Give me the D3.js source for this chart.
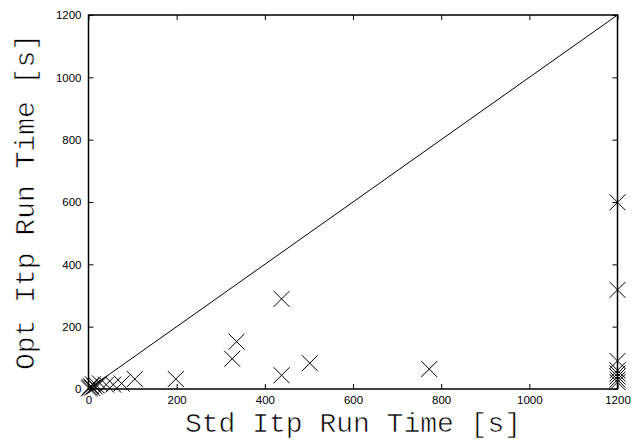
<!DOCTYPE html>
<html>
<head>
<meta charset="utf-8">
<script src="https://cdn.jsdelivr.net/npm/d3@7"></script>
<style>
    body { margin: 0; background: #fff; }
    svg { display: block; }
</style>
</head>
<body>
<div id="chart"></div>
<script>
// run times per benchmark (seconds), 1200 = timeout
var stdTime = [1, 3, 5, 8, 10, 14, 18, 26, 40, 56, 75, 105, 198, 326, 336, 438, 438, 502, 773,
    1200, 1200, 1200, 1200, 1200, 1200, 1200, 1200];
var optTime = [2, 5, 10, 4, 15, 8, 12, 18, 14, 14, 18, 32, 32, 97, 152, 289, 44, 83, 64,
    599, 318, 90, 60, 50, 40, 30, 22];
var tickValues = [0, 200, 400, 600, 800, 1000, 1200];

var width = 644, height = 441;
var margin = {left: 88.5, right: 26.5, top: 15, bottom: 52};

var svg = d3.select('#chart').append('svg')
    .attr('width', width)
    .attr('height', height);

var x = d3.scaleLinear().domain([0, 1200]).range([margin.left, width - margin.right]);
var y = d3.scaleLinear().domain([0, 1200]).range([height - margin.bottom, margin.top]);

var tickFont = function (g) {
    g.selectAll('text')
        .attr('font-family', 'Liberation Sans, Arial, sans-serif')
        .attr('font-size', 11.5)
        .attr('fill', '#000');
    g.select('.domain').remove();
    g.selectAll('line').attr('stroke', '#000');
};

// bottom / left axes with labels, ticks point inward
svg.append('g')
    .attr('transform', 'translate(0,' + y(0) + ')')
    .call(d3.axisBottom(x).tickValues(tickValues).tickSize(-5).tickPadding(7).tickFormat(d3.format('d')))
    .call(tickFont);

svg.append('g')
    .attr('transform', 'translate(' + x(0) + ',0)')
    .call(d3.axisLeft(y).tickValues(tickValues).tickSize(-5).tickPadding(7).tickFormat(d3.format('d')))
    .call(tickFont);

// mirrored ticks on top / right
svg.append('g')
    .attr('transform', 'translate(0,' + y(1200) + ')')
    .call(d3.axisTop(x).tickValues(tickValues).tickSize(-5).tickFormat(''))
    .call(tickFont);

svg.append('g')
    .attr('transform', 'translate(' + x(1200) + ',0)')
    .call(d3.axisRight(y).tickValues(tickValues).tickSize(-5).tickFormat(''))
    .call(tickFont);

// diagonal y = x
svg.append('line')
    .attr('x1', x(0)).attr('y1', y(0))
    .attr('x2', x(1200)).attr('y2', y(1200))
    .attr('stroke', '#000')
    .attr('stroke-width', 1);

// points drawn as crosses
var r = 8;
svg.append('g').attr('class', 'points')
    .selectAll('path')
    .data(d3.range(stdTime.length))
    .enter().append('path')
    .attr('d', function (i) {
        var px = x(stdTime[i]), py = y(optTime[i]);
        return 'M' + (px - r) + ',' + (py - r) + 'L' + (px + r) + ',' + (py + r) +
            'M' + (px - r) + ',' + (py + r) + 'L' + (px + r) + ',' + (py - r);
    })
    .attr('stroke', '#000')
    .attr('stroke-width', 1)
    .attr('fill', 'none');

// frame
svg.append('rect')
    .attr('x', x(0)).attr('y', y(1200))
    .attr('width', x(1200) - x(0))
    .attr('height', y(0) - y(1200))
    .attr('fill', 'none')
    .attr('stroke', '#000')
    .attr('stroke-width', 1.5);

// axis titles (thin courier look: white stroke over the glyphs)
var title = function (sel) {
    sel.attr('text-anchor', 'middle')
        .attr('font-family', 'Liberation Mono, Courier New, monospace')
        .attr('font-size', 28)
        .attr('fill', '#000')
        .attr('stroke', '#fff')
        .attr('stroke-width', 0.6);
};

svg.append('text')
    .attr('x', (x(0) + x(1200)) / 2)
    .attr('y', 432)
    .call(title)
    .text('Std Itp Run Time [s]');

svg.append('text')
    .attr('transform', 'translate(34,' + ((y(0) + y(1200)) / 2) + ') rotate(-90)')
    .call(title)
    .text('Opt Itp Run Time [s]');
</script>
</body>
</html>
